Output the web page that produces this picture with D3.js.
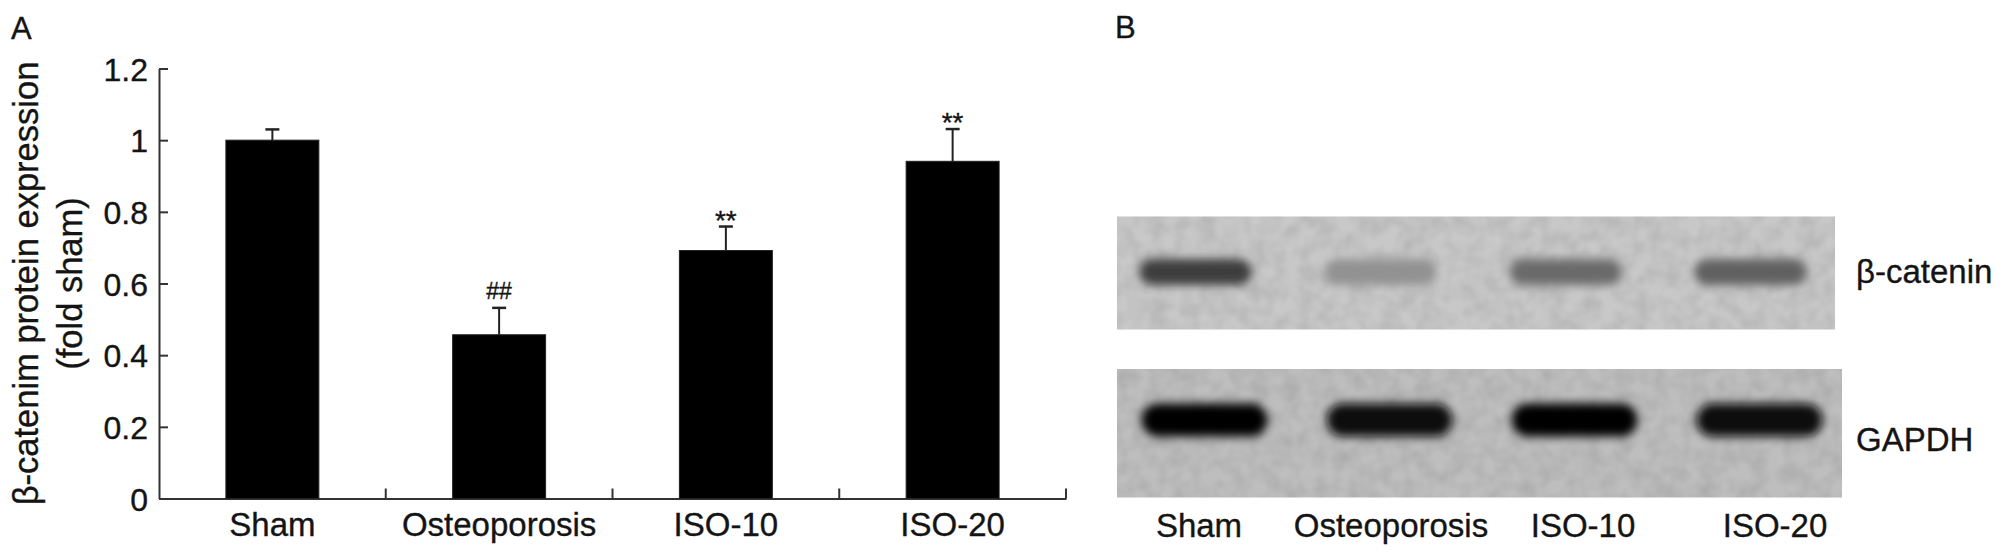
<!DOCTYPE html>
<html>
<head>
<meta charset="utf-8">
<script src="https://cdn.jsdelivr.net/npm/d3@7"></script>
<style>
  body { margin: 0; background: #fff; }
  svg { display: block; }
  text { font-family: "Liberation Sans", Arial, Helvetica, sans-serif; fill: #141414; stroke: #141414; stroke-width: 0.35px; }
</style>
</head>
<body>
<svg id="fig" width="2008" height="557"></svg>
<script>
// ---- data ----
var groups = ["Sham", "Osteoporosis", "ISO-10", "ISO-20"];
var means = [1.0, 0.457, 0.692, 0.941];
var sems = [0.03, 0.075, 0.067, 0.09];
var marks = ["", "##", "**", "**"];
var yTicks = [0, 0.2, 0.4, 0.6, 0.8, 1.0, 1.2];
var yTickLabels = ["0", "0.2", "0.4", "0.6", "0.8", "1", "1.2"];
var yTitle = ["β-catenim protein expression", "(fold sham)"];

var blotRows = ["β-catenin", "GAPDH"];
// band density (0 = empty lane, 1 = black)
var betaCatenin = [0.70, 0.27, 0.47, 0.52];
var gapdh = [0.97, 0.96, 0.98, 0.96];

var svg = d3.select("#fig");
var defs = svg.append("defs");

// ---------------- panel A ----------------
var x = d3.scaleBand()
    .domain(groups)
    .range([159, 1066]);

var y = d3.scaleLinear()
    .domain([0, 1.2])
    .range([498.5, 68.5]);

var gA = svg.append("g");

svg.append("text")
    .attr("x", 11).attr("y", 39)
    .style("font-size", "31px")
    .text("A");

// y axis, ticks pointing inwards
var yAxis = gA.append("g")
    .attr("transform", "translate(" + x.range()[0] + ",0)")
    .call(d3.axisLeft(y)
        .tickValues(yTicks)
        .tickFormat(function (d, i) { return yTickLabels[i]; })
        .tickSizeInner(-9)
        .tickSizeOuter(0)
        .tickPadding(11));
yAxis.select(".domain").attr("stroke", "#333").attr("stroke-width", 2);
yAxis.selectAll(".tick line").attr("stroke", "#333").attr("stroke-width", 2);
yAxis.selectAll(".tick text")
    .style("font-size", "32px")
    .attr("fill", "#141414")
    .attr("dy", "0.36em");

// x axis: labels at band centres, tick marks on band boundaries
var xAxis = gA.append("g")
    .attr("transform", "translate(0," + y(0) + ")")
    .call(d3.axisBottom(x).tickSize(0).tickPadding(14));
xAxis.select(".domain").attr("stroke", "#333").attr("stroke-width", 2);
xAxis.selectAll(".tick text")
    .style("font-size", "33px")
    .attr("fill", "#141414");

gA.selectAll(".bound")
    .data(groups)
    .enter().append("line")
    .attr("class", "bound")
    .attr("x1", function (d) { return x(d) + x.bandwidth(); })
    .attr("x2", function (d) { return x(d) + x.bandwidth(); })
    .attr("y1", y(0))
    .attr("y2", y(0) - 10)
    .attr("stroke", "#333")
    .attr("stroke-width", 2);

var barW = x.bandwidth() * 0.41;

// error bars (upper half only), drawn under the bars
gA.selectAll(".err")
    .data(groups)
    .enter().append("line")
    .attr("class", "err")
    .attr("x1", function (d) { return x(d) + x.bandwidth() / 2; })
    .attr("x2", function (d) { return x(d) + x.bandwidth() / 2; })
    .attr("y1", function (d, i) { return y(means[i]); })
    .attr("y2", function (d, i) { return y(means[i] + sems[i]); })
    .attr("stroke", "#222")
    .attr("stroke-width", 2);

gA.selectAll(".cap")
    .data(groups)
    .enter().append("line")
    .attr("class", "cap")
    .attr("x1", function (d) { return x(d) + x.bandwidth() / 2 - 7; })
    .attr("x2", function (d) { return x(d) + x.bandwidth() / 2 + 7; })
    .attr("y1", function (d, i) { return y(means[i] + sems[i]); })
    .attr("y2", function (d, i) { return y(means[i] + sems[i]); })
    .attr("stroke", "#222")
    .attr("stroke-width", 2.5);

gA.selectAll(".bar")
    .data(groups)
    .enter().append("rect")
    .attr("class", "bar")
    .attr("x", function (d) { return x(d) + (x.bandwidth() - barW) / 2; })
    .attr("width", barW)
    .attr("y", function (d, i) { return y(means[i]); })
    .attr("height", function (d, i) { return y(0) - y(means[i]); })
    .attr("fill", "#000")
    .attr("stroke", "#222")
    .attr("stroke-width", 1);

// significance marks
gA.selectAll(".mark")
    .data(groups)
    .enter().append("text")
    .attr("class", "mark")
    .attr("text-anchor", "middle")
    .attr("x", function (d) { return x(d) + x.bandwidth() / 2; })
    .attr("y", function (d, i) {
        var top = y(means[i] + sems[i]);
        return marks[i].charAt(0) === "*" ? top + 3 : top - 9;
    })
    .style("font-size", function (d, i) { return marks[i].charAt(0) === "*" ? "28px" : "23px"; })
    .text(function (d, i) { return marks[i]; });

// y title, two rotated lines
svg.append("text")
    .attr("transform", "translate(0," + ((y(0) + y(1.2)) / 2) + ") rotate(-90)")
    .attr("text-anchor", "middle")
    .style("font-size", "34.5px")
    .selectAll("tspan")
    .data(yTitle)
    .enter().append("tspan")
    .attr("x", 0)
    .attr("y", function (d, i) { return 38 + i * 44; })
    .text(function (d) { return d; });

// ---------------- panel B (blot) ----------------
svg.append("text")
    .attr("x", 1115).attr("y", 38)
    .style("font-size", "31px")
    .text("B");

var lane = d3.scaleBand()
    .domain(groups)
    .range([1103, 1843]);

var laneLabel = d3.scaleBand()
    .domain(groups)
    .range([1103, 1871]);

var rowBox = d3.scaleOrdinal()
    .domain(blotRows)
    .range([
        {x0: 1117, x1: 1835, y0: 216.5, y1: 329.5, bg: "#c8c8c8", cy: 272, bw: 112, bh: 26, shift: 0},
        {x0: 1117, x1: 1842, y0: 369, y1: 497.5, bg: "#bebebe", cy: 420, bw: 126, bh: 33, shift: 9}
    ]);

var blur = defs.append("filter")
    .attr("id", "blur")
    .attr("x", "-30%").attr("y", "-80%")
    .attr("width", "160%").attr("height", "260%");
blur.append("feGaussianBlur").attr("stdDeviation", "5 5");

var grain = defs.append("filter").attr("id", "grain");
grain.append("feTurbulence")
    .attr("type", "fractalNoise")
    .attr("baseFrequency", 0.06)
    .attr("numOctaves", 2)
    .attr("seed", 4)
    .attr("result", "noise");
grain.append("feColorMatrix")
    .attr("in", "noise")
    .attr("type", "matrix")
    .attr("values", "0 0 0 0 0  0 0 0 0 0  0 0 0 0 0  0 0 0 0.16 -0.05")
    .attr("result", "dots");
grain.append("feComposite")
    .attr("in", "dots").attr("in2", "SourceGraphic")
    .attr("operator", "in");

var density = [betaCatenin, gapdh];

blotRows.forEach(function (row, r) {
    var b = rowBox(row);
    var g = svg.append("g");
    g.append("rect")
        .attr("x", b.x0).attr("y", b.y0)
        .attr("width", b.x1 - b.x0).attr("height", b.y1 - b.y0)
        .attr("fill", b.bg);
    g.append("rect")
        .attr("x", b.x0).attr("y", b.y0)
        .attr("width", b.x1 - b.x0).attr("height", b.y1 - b.y0)
        .attr("fill", "#000")
        .attr("filter", "url(#grain)");

    var shade = d3.interpolateRgb(b.bg, "#000");
    g.selectAll(".band")
        .data(groups)
        .enter().append("rect")
        .attr("class", "band")
        .attr("x", function (d) { return lane(d) + lane.bandwidth() / 2 + b.shift - b.bw / 2; })
        .attr("y", b.cy - b.bh / 2)
        .attr("width", b.bw)
        .attr("height", b.bh)
        .attr("rx", b.bh / 2)
        .attr("fill", function (d, i) { return shade(density[r][i]); })
        .attr("filter", "url(#blur)");

    svg.append("text")
        .attr("x", 1856)
        .attr("y", (b.y0 + b.y1) / 2)
        .attr("dy", r === 0 ? "0.3em" : "0.55em")
        .style("font-size", "33px")
        .text(row);
});

svg.selectAll(".lanelab")
    .data(groups)
    .enter().append("text")
    .attr("class", "lanelab")
    .attr("text-anchor", "middle")
    .attr("x", function (d) { return laneLabel(d) + laneLabel.bandwidth() / 2; })
    .attr("y", 536.5)
    .style("font-size", "33px")
    .text(function (d) { return d; });
</script>
</body>
</html>
